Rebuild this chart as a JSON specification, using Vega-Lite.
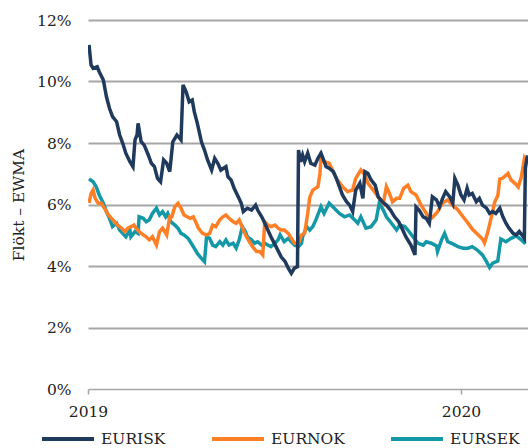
{
"$schema": "https://vega.github.io/schema/vega-lite/v6.json",
"width": 440, "height": 369,
"autosize": {"type": "none"},
"padding": {"left": 88, "top": 20, "right": 0, "bottom": 59},
"background": "white",
"config": {"view": {"stroke": null}, "font": "DejaVu Serif"},
"data": {"values": [
{"d":"2019-01-02","s":"EURISK","v":11.19},{"d":"2019-01-04","s":"EURISK","v":10.54},{"d":"2019-01-06","s":"EURISK","v":10.43},{"d":"2019-01-10","s":"EURISK","v":10.48},{"d":"2019-01-12","s":"EURISK","v":10.32},{"d":"2019-01-16","s":"EURISK","v":10.05},{"d":"2019-01-19","s":"EURISK","v":9.51},{"d":"2019-01-22","s":"EURISK","v":9.13},{"d":"2019-01-25","s":"EURISK","v":8.86},{"d":"2019-01-29","s":"EURISK","v":8.69},{"d":"2019-02-01","s":"EURISK","v":8.26},{"d":"2019-02-04","s":"EURISK","v":7.99},{"d":"2019-02-07","s":"EURISK","v":7.67},{"d":"2019-02-11","s":"EURISK","v":7.39},{"d":"2019-02-14","s":"EURISK","v":7.23},{"d":"2019-02-16","s":"EURISK","v":8.10},{"d":"2019-02-18","s":"EURISK","v":8.26},{"d":"2019-02-19","s":"EURISK","v":8.64},{"d":"2019-02-22","s":"EURISK","v":8.04},{"d":"2019-02-25","s":"EURISK","v":7.93},{"d":"2019-03-01","s":"EURISK","v":7.61},{"d":"2019-03-04","s":"EURISK","v":7.34},{"d":"2019-03-07","s":"EURISK","v":7.23},{"d":"2019-03-10","s":"EURISK","v":6.85},{"d":"2019-03-13","s":"EURISK","v":6.74},{"d":"2019-03-16","s":"EURISK","v":7.45},{"d":"2019-03-19","s":"EURISK","v":7.34},{"d":"2019-03-22","s":"EURISK","v":7.07},{"d":"2019-03-25","s":"EURISK","v":8.04},{"d":"2019-03-29","s":"EURISK","v":8.26},{"d":"2019-04-02","s":"EURISK","v":8.10},{"d":"2019-04-04","s":"EURISK","v":9.89},{"d":"2019-04-07","s":"EURISK","v":9.67},{"d":"2019-04-10","s":"EURISK","v":9.34},{"d":"2019-04-13","s":"EURISK","v":9.40},{"d":"2019-04-15","s":"EURISK","v":9.02},{"d":"2019-04-18","s":"EURISK","v":8.64},{"d":"2019-04-22","s":"EURISK","v":8.04},{"d":"2019-04-25","s":"EURISK","v":7.77},{"d":"2019-04-28","s":"EURISK","v":7.45},{"d":"2019-05-02","s":"EURISK","v":7.12},{"d":"2019-05-05","s":"EURISK","v":7.50},{"d":"2019-05-08","s":"EURISK","v":7.34},{"d":"2019-05-11","s":"EURISK","v":7.12},{"d":"2019-05-16","s":"EURISK","v":7.23},{"d":"2019-05-18","s":"EURISK","v":6.90},{"d":"2019-05-21","s":"EURISK","v":6.80},{"d":"2019-05-24","s":"EURISK","v":6.53},{"d":"2019-05-28","s":"EURISK","v":6.25},{"d":"2019-05-31","s":"EURISK","v":6.04},{"d":"2019-06-02","s":"EURISK","v":5.77},{"d":"2019-06-06","s":"EURISK","v":5.88},{"d":"2019-06-10","s":"EURISK","v":5.82},{"d":"2019-06-14","s":"EURISK","v":5.98},{"d":"2019-06-16","s":"EURISK","v":5.82},{"d":"2019-06-20","s":"EURISK","v":5.60},{"d":"2019-06-23","s":"EURISK","v":5.39},{"d":"2019-06-26","s":"EURISK","v":5.17},{"d":"2019-06-29","s":"EURISK","v":4.95},{"d":"2019-07-04","s":"EURISK","v":4.63},{"d":"2019-07-09","s":"EURISK","v":4.30},{"d":"2019-07-13","s":"EURISK","v":4.14},{"d":"2019-07-16","s":"EURISK","v":3.93},{"d":"2019-07-19","s":"EURISK","v":3.76},{"d":"2019-07-22","s":"EURISK","v":3.93},{"d":"2019-07-25","s":"EURISK","v":3.98},{"d":"2019-07-26","s":"EURISK","v":7.77},{"d":"2019-07-28","s":"EURISK","v":7.39},{"d":"2019-07-30","s":"EURISK","v":7.61},{"d":"2019-08-01","s":"EURISK","v":7.39},{"d":"2019-08-04","s":"EURISK","v":7.67},{"d":"2019-08-07","s":"EURISK","v":7.34},{"d":"2019-08-11","s":"EURISK","v":7.28},{"d":"2019-08-14","s":"EURISK","v":7.50},{"d":"2019-08-17","s":"EURISK","v":7.67},{"d":"2019-08-19","s":"EURISK","v":7.50},{"d":"2019-08-22","s":"EURISK","v":7.23},{"d":"2019-08-25","s":"EURISK","v":7.18},{"d":"2019-08-29","s":"EURISK","v":7.07},{"d":"2019-09-01","s":"EURISK","v":6.85},{"d":"2019-09-04","s":"EURISK","v":6.58},{"d":"2019-09-07","s":"EURISK","v":6.31},{"d":"2019-09-11","s":"EURISK","v":6.09},{"d":"2019-09-14","s":"EURISK","v":5.98},{"d":"2019-09-17","s":"EURISK","v":5.77},{"d":"2019-09-20","s":"EURISK","v":6.47},{"d":"2019-09-24","s":"EURISK","v":6.69},{"d":"2019-09-27","s":"EURISK","v":6.20},{"d":"2019-09-29","s":"EURISK","v":7.07},{"d":"2019-10-02","s":"EURISK","v":7.01},{"d":"2019-10-05","s":"EURISK","v":6.80},{"d":"2019-10-09","s":"EURISK","v":6.63},{"d":"2019-10-12","s":"EURISK","v":6.25},{"d":"2019-10-16","s":"EURISK","v":6.09},{"d":"2019-10-20","s":"EURISK","v":5.98},{"d":"2019-10-24","s":"EURISK","v":5.82},{"d":"2019-10-28","s":"EURISK","v":5.60},{"d":"2019-11-01","s":"EURISK","v":5.44},{"d":"2019-11-05","s":"EURISK","v":5.17},{"d":"2019-11-08","s":"EURISK","v":4.95},{"d":"2019-11-13","s":"EURISK","v":4.68},{"d":"2019-11-17","s":"EURISK","v":4.36},{"d":"2019-11-18","s":"EURISK","v":5.92},{"d":"2019-11-21","s":"EURISK","v":5.82},{"d":"2019-11-25","s":"EURISK","v":5.60},{"d":"2019-11-28","s":"EURISK","v":5.55},{"d":"2019-12-01","s":"EURISK","v":5.39},{"d":"2019-12-04","s":"EURISK","v":6.25},{"d":"2019-12-08","s":"EURISK","v":6.15},{"d":"2019-12-11","s":"EURISK","v":5.93},{"d":"2019-12-14","s":"EURISK","v":6.20},{"d":"2019-12-17","s":"EURISK","v":6.42},{"d":"2019-12-21","s":"EURISK","v":6.25},{"d":"2019-12-24","s":"EURISK","v":6.04},{"d":"2019-12-26","s":"EURISK","v":6.85},{"d":"2019-12-29","s":"EURISK","v":6.63},{"d":"2020-01-01","s":"EURISK","v":6.31},{"d":"2020-01-04","s":"EURISK","v":6.15},{"d":"2020-01-07","s":"EURISK","v":6.53},{"d":"2020-01-09","s":"EURISK","v":6.31},{"d":"2020-01-12","s":"EURISK","v":6.36},{"d":"2020-01-16","s":"EURISK","v":6.09},{"d":"2020-01-19","s":"EURISK","v":6.20},{"d":"2020-01-22","s":"EURISK","v":5.98},{"d":"2020-01-26","s":"EURISK","v":5.88},{"d":"2020-01-29","s":"EURISK","v":5.71},{"d":"2020-02-01","s":"EURISK","v":5.77},{"d":"2020-02-04","s":"EURISK","v":5.71},{"d":"2020-02-08","s":"EURISK","v":5.88},{"d":"2020-02-11","s":"EURISK","v":5.60},{"d":"2020-02-14","s":"EURISK","v":5.39},{"d":"2020-02-17","s":"EURISK","v":5.23},{"d":"2020-02-21","s":"EURISK","v":5.06},{"d":"2020-02-24","s":"EURISK","v":5.01},{"d":"2020-02-27","s":"EURISK","v":5.12},{"d":"2020-03-02","s":"EURISK","v":4.95},{"d":"2020-03-03","s":"EURISK","v":4.90},{"d":"2020-03-04","s":"EURISK","v":7.18},{"d":"2020-03-06","s":"EURISK","v":7.60},
{"d":"2019-01-02","s":"EURNOK","v":6.05},{"d":"2019-01-04","s":"EURNOK","v":6.35},{"d":"2019-01-06","s":"EURNOK","v":6.47},{"d":"2019-01-08","s":"EURNOK","v":6.20},{"d":"2019-01-11","s":"EURNOK","v":6.04},{"d":"2019-01-14","s":"EURNOK","v":6.04},{"d":"2019-01-17","s":"EURNOK","v":5.88},{"d":"2019-01-21","s":"EURNOK","v":5.66},{"d":"2019-01-24","s":"EURNOK","v":5.55},{"d":"2019-01-27","s":"EURNOK","v":5.44},{"d":"2019-01-30","s":"EURNOK","v":5.33},{"d":"2019-02-03","s":"EURNOK","v":5.23},{"d":"2019-02-06","s":"EURNOK","v":5.12},{"d":"2019-02-09","s":"EURNOK","v":5.23},{"d":"2019-02-12","s":"EURNOK","v":5.28},{"d":"2019-02-15","s":"EURNOK","v":5.33},{"d":"2019-02-17","s":"EURNOK","v":5.23},{"d":"2019-02-20","s":"EURNOK","v":5.12},{"d":"2019-02-24","s":"EURNOK","v":5.01},{"d":"2019-02-27","s":"EURNOK","v":4.95},{"d":"2019-03-02","s":"EURNOK","v":4.85},{"d":"2019-03-05","s":"EURNOK","v":4.95},{"d":"2019-03-09","s":"EURNOK","v":4.68},{"d":"2019-03-12","s":"EURNOK","v":5.12},{"d":"2019-03-15","s":"EURNOK","v":5.23},{"d":"2019-03-19","s":"EURNOK","v":5.01},{"d":"2019-03-22","s":"EURNOK","v":5.60},{"d":"2019-03-24","s":"EURNOK","v":5.60},{"d":"2019-03-27","s":"EURNOK","v":5.93},{"d":"2019-03-30","s":"EURNOK","v":6.04},{"d":"2019-04-02","s":"EURNOK","v":5.88},{"d":"2019-04-05","s":"EURNOK","v":5.66},{"d":"2019-04-08","s":"EURNOK","v":5.60},{"d":"2019-04-11","s":"EURNOK","v":5.55},{"d":"2019-04-14","s":"EURNOK","v":5.60},{"d":"2019-04-17","s":"EURNOK","v":5.39},{"d":"2019-04-19","s":"EURNOK","v":5.23},{"d":"2019-04-23","s":"EURNOK","v":5.06},{"d":"2019-04-27","s":"EURNOK","v":5.01},{"d":"2019-04-30","s":"EURNOK","v":5.06},{"d":"2019-05-03","s":"EURNOK","v":5.33},{"d":"2019-05-06","s":"EURNOK","v":5.28},{"d":"2019-05-10","s":"EURNOK","v":5.50},{"d":"2019-05-13","s":"EURNOK","v":5.60},{"d":"2019-05-16","s":"EURNOK","v":5.66},{"d":"2019-05-19","s":"EURNOK","v":5.55},{"d":"2019-05-23","s":"EURNOK","v":5.44},{"d":"2019-05-26","s":"EURNOK","v":5.39},{"d":"2019-05-29","s":"EURNOK","v":5.50},{"d":"2019-06-02","s":"EURNOK","v":5.17},{"d":"2019-06-05","s":"EURNOK","v":4.95},{"d":"2019-06-08","s":"EURNOK","v":4.79},{"d":"2019-06-11","s":"EURNOK","v":4.63},{"d":"2019-06-15","s":"EURNOK","v":4.47},{"d":"2019-06-18","s":"EURNOK","v":4.47},{"d":"2019-06-21","s":"EURNOK","v":4.36},{"d":"2019-06-23","s":"EURNOK","v":5.44},{"d":"2019-06-26","s":"EURNOK","v":5.33},{"d":"2019-06-29","s":"EURNOK","v":5.28},{"d":"2019-07-03","s":"EURNOK","v":5.33},{"d":"2019-07-06","s":"EURNOK","v":5.23},{"d":"2019-07-09","s":"EURNOK","v":5.17},{"d":"2019-07-12","s":"EURNOK","v":5.17},{"d":"2019-07-16","s":"EURNOK","v":5.06},{"d":"2019-07-19","s":"EURNOK","v":4.90},{"d":"2019-07-22","s":"EURNOK","v":4.74},{"d":"2019-07-26","s":"EURNOK","v":4.74},{"d":"2019-07-29","s":"EURNOK","v":5.01},{"d":"2019-08-01","s":"EURNOK","v":5.06},{"d":"2019-08-04","s":"EURNOK","v":5.71},{"d":"2019-08-06","s":"EURNOK","v":6.23},{"d":"2019-08-09","s":"EURNOK","v":6.47},{"d":"2019-08-14","s":"EURNOK","v":6.58},{"d":"2019-08-16","s":"EURNOK","v":7.01},{"d":"2019-08-17","s":"EURNOK","v":7.55},{"d":"2019-08-20","s":"EURNOK","v":7.39},{"d":"2019-08-25","s":"EURNOK","v":7.34},{"d":"2019-08-29","s":"EURNOK","v":7.07},{"d":"2019-09-02","s":"EURNOK","v":6.80},{"d":"2019-09-07","s":"EURNOK","v":6.58},{"d":"2019-09-12","s":"EURNOK","v":6.42},{"d":"2019-09-17","s":"EURNOK","v":6.47},{"d":"2019-09-20","s":"EURNOK","v":6.85},{"d":"2019-09-25","s":"EURNOK","v":7.12},{"d":"2019-09-29","s":"EURNOK","v":6.96},{"d":"2019-10-02","s":"EURNOK","v":6.69},{"d":"2019-10-07","s":"EURNOK","v":6.47},{"d":"2019-10-12","s":"EURNOK","v":6.25},{"d":"2019-10-17","s":"EURNOK","v":6.04},{"d":"2019-10-20","s":"EURNOK","v":6.58},{"d":"2019-10-23","s":"EURNOK","v":6.36},{"d":"2019-10-26","s":"EURNOK","v":6.09},{"d":"2019-10-30","s":"EURNOK","v":6.20},{"d":"2019-11-02","s":"EURNOK","v":6.20},{"d":"2019-11-06","s":"EURNOK","v":6.53},{"d":"2019-11-10","s":"EURNOK","v":6.63},{"d":"2019-11-13","s":"EURNOK","v":6.42},{"d":"2019-11-18","s":"EURNOK","v":6.31},{"d":"2019-11-23","s":"EURNOK","v":5.98},{"d":"2019-11-28","s":"EURNOK","v":5.71},{"d":"2019-12-01","s":"EURNOK","v":5.50},{"d":"2019-12-04","s":"EURNOK","v":5.58},{"d":"2019-12-09","s":"EURNOK","v":5.76},{"d":"2019-12-14","s":"EURNOK","v":6.05},{"d":"2019-12-19","s":"EURNOK","v":6.15},{"d":"2019-12-24","s":"EURNOK","v":5.97},{"d":"2019-12-29","s":"EURNOK","v":5.82},{"d":"2020-01-03","s":"EURNOK","v":5.60},{"d":"2020-01-08","s":"EURNOK","v":5.39},{"d":"2020-01-12","s":"EURNOK","v":5.20},{"d":"2020-01-17","s":"EURNOK","v":5.04},{"d":"2020-01-22","s":"EURNOK","v":4.88},{"d":"2020-01-24","s":"EURNOK","v":4.75},{"d":"2020-01-27","s":"EURNOK","v":5.07},{"d":"2020-01-31","s":"EURNOK","v":5.63},{"d":"2020-02-03","s":"EURNOK","v":6.08},{"d":"2020-02-06","s":"EURNOK","v":6.28},{"d":"2020-02-08","s":"EURNOK","v":6.83},{"d":"2020-02-11","s":"EURNOK","v":6.86},{"d":"2020-02-16","s":"EURNOK","v":7.01},{"d":"2020-02-19","s":"EURNOK","v":6.80},{"d":"2020-02-23","s":"EURNOK","v":6.68},{"d":"2020-02-26","s":"EURNOK","v":6.57},{"d":"2020-02-29","s":"EURNOK","v":6.89},{"d":"2020-03-03","s":"EURNOK","v":7.48},{"d":"2020-03-05","s":"EURNOK","v":7.32},
{"d":"2019-01-02","s":"EURSEK","v":6.83},{"d":"2019-01-06","s":"EURSEK","v":6.74},{"d":"2019-01-09","s":"EURSEK","v":6.58},{"d":"2019-01-12","s":"EURSEK","v":6.31},{"d":"2019-01-16","s":"EURSEK","v":6.04},{"d":"2019-01-19","s":"EURSEK","v":5.77},{"d":"2019-01-22","s":"EURSEK","v":5.55},{"d":"2019-01-25","s":"EURSEK","v":5.28},{"d":"2019-01-29","s":"EURSEK","v":5.39},{"d":"2019-02-01","s":"EURSEK","v":5.17},{"d":"2019-02-04","s":"EURSEK","v":5.06},{"d":"2019-02-07","s":"EURSEK","v":4.95},{"d":"2019-02-11","s":"EURSEK","v":5.17},{"d":"2019-02-12","s":"EURSEK","v":4.95},{"d":"2019-02-16","s":"EURSEK","v":5.12},{"d":"2019-02-19","s":"EURSEK","v":5.06},{"d":"2019-02-20","s":"EURSEK","v":5.60},{"d":"2019-02-24","s":"EURSEK","v":5.55},{"d":"2019-02-27","s":"EURSEK","v":5.44},{"d":"2019-03-02","s":"EURSEK","v":5.50},{"d":"2019-03-05","s":"EURSEK","v":5.71},{"d":"2019-03-09","s":"EURSEK","v":5.88},{"d":"2019-03-12","s":"EURSEK","v":5.66},{"d":"2019-03-15","s":"EURSEK","v":5.77},{"d":"2019-03-18","s":"EURSEK","v":5.60},{"d":"2019-03-20","s":"EURSEK","v":5.71},{"d":"2019-03-23","s":"EURSEK","v":5.44},{"d":"2019-03-27","s":"EURSEK","v":5.33},{"d":"2019-03-30","s":"EURSEK","v":5.23},{"d":"2019-04-02","s":"EURSEK","v":5.06},{"d":"2019-04-05","s":"EURSEK","v":5.01},{"d":"2019-04-09","s":"EURSEK","v":4.90},{"d":"2019-04-12","s":"EURSEK","v":4.74},{"d":"2019-04-15","s":"EURSEK","v":4.58},{"d":"2019-04-18","s":"EURSEK","v":4.41},{"d":"2019-04-22","s":"EURSEK","v":4.25},{"d":"2019-04-25","s":"EURSEK","v":4.14},{"d":"2019-04-27","s":"EURSEK","v":4.95},{"d":"2019-04-30","s":"EURSEK","v":4.90},{"d":"2019-05-03","s":"EURSEK","v":4.68},{"d":"2019-05-06","s":"EURSEK","v":4.63},{"d":"2019-05-10","s":"EURSEK","v":4.79},{"d":"2019-05-13","s":"EURSEK","v":4.68},{"d":"2019-05-16","s":"EURSEK","v":4.85},{"d":"2019-05-19","s":"EURSEK","v":4.68},{"d":"2019-05-23","s":"EURSEK","v":4.74},{"d":"2019-05-26","s":"EURSEK","v":4.58},{"d":"2019-05-29","s":"EURSEK","v":4.85},{"d":"2019-06-01","s":"EURSEK","v":5.28},{"d":"2019-06-04","s":"EURSEK","v":5.12},{"d":"2019-06-06","s":"EURSEK","v":4.95},{"d":"2019-06-10","s":"EURSEK","v":4.85},{"d":"2019-06-13","s":"EURSEK","v":4.74},{"d":"2019-06-16","s":"EURSEK","v":4.79},{"d":"2019-06-20","s":"EURSEK","v":4.68},{"d":"2019-06-23","s":"EURSEK","v":4.74},{"d":"2019-06-26","s":"EURSEK","v":4.68},{"d":"2019-06-29","s":"EURSEK","v":4.63},{"d":"2019-07-03","s":"EURSEK","v":4.74},{"d":"2019-07-06","s":"EURSEK","v":4.85},{"d":"2019-07-08","s":"EURSEK","v":5.01},{"d":"2019-07-12","s":"EURSEK","v":4.79},{"d":"2019-07-16","s":"EURSEK","v":4.90},{"d":"2019-07-19","s":"EURSEK","v":4.79},{"d":"2019-07-22","s":"EURSEK","v":4.68},{"d":"2019-07-26","s":"EURSEK","v":4.63},{"d":"2019-07-29","s":"EURSEK","v":4.74},{"d":"2019-07-30","s":"EURSEK","v":4.95},{"d":"2019-08-03","s":"EURSEK","v":5.28},{"d":"2019-08-06","s":"EURSEK","v":5.17},{"d":"2019-08-09","s":"EURSEK","v":5.28},{"d":"2019-08-12","s":"EURSEK","v":5.50},{"d":"2019-08-17","s":"EURSEK","v":5.93},{"d":"2019-08-20","s":"EURSEK","v":5.71},{"d":"2019-08-25","s":"EURSEK","v":6.04},{"d":"2019-08-30","s":"EURSEK","v":5.88},{"d":"2019-09-04","s":"EURSEK","v":5.71},{"d":"2019-09-09","s":"EURSEK","v":5.60},{"d":"2019-09-14","s":"EURSEK","v":5.66},{"d":"2019-09-19","s":"EURSEK","v":5.50},{"d":"2019-09-22","s":"EURSEK","v":5.39},{"d":"2019-09-25","s":"EURSEK","v":5.60},{"d":"2019-09-30","s":"EURSEK","v":5.23},{"d":"2019-10-05","s":"EURSEK","v":5.28},{"d":"2019-10-10","s":"EURSEK","v":5.50},{"d":"2019-10-13","s":"EURSEK","v":6.04},{"d":"2019-10-17","s":"EURSEK","v":5.82},{"d":"2019-10-20","s":"EURSEK","v":5.60},{"d":"2019-10-25","s":"EURSEK","v":5.39},{"d":"2019-10-30","s":"EURSEK","v":5.17},{"d":"2019-11-02","s":"EURSEK","v":5.33},{"d":"2019-11-07","s":"EURSEK","v":5.28},{"d":"2019-11-10","s":"EURSEK","v":5.17},{"d":"2019-11-15","s":"EURSEK","v":4.95},{"d":"2019-11-20","s":"EURSEK","v":4.74},{"d":"2019-11-25","s":"EURSEK","v":4.68},{"d":"2019-11-28","s":"EURSEK","v":4.79},{"d":"2019-12-03","s":"EURSEK","v":4.74},{"d":"2019-12-08","s":"EURSEK","v":4.65},{"d":"2019-12-09","s":"EURSEK","v":4.47},{"d":"2019-12-13","s":"EURSEK","v":4.85},{"d":"2019-12-16","s":"EURSEK","v":5.06},{"d":"2019-12-19","s":"EURSEK","v":4.79},{"d":"2019-12-24","s":"EURSEK","v":4.72},{"d":"2019-12-29","s":"EURSEK","v":4.63},{"d":"2020-01-03","s":"EURSEK","v":4.58},{"d":"2020-01-08","s":"EURSEK","v":4.58},{"d":"2020-01-12","s":"EURSEK","v":4.63},{"d":"2020-01-17","s":"EURSEK","v":4.52},{"d":"2020-01-22","s":"EURSEK","v":4.36},{"d":"2020-01-26","s":"EURSEK","v":4.14},{"d":"2020-01-29","s":"EURSEK","v":3.95},{"d":"2020-02-01","s":"EURSEK","v":4.09},{"d":"2020-02-06","s":"EURSEK","v":4.16},{"d":"2020-02-09","s":"EURSEK","v":4.88},{"d":"2020-02-14","s":"EURSEK","v":4.79},{"d":"2020-02-19","s":"EURSEK","v":4.90},{"d":"2020-02-24","s":"EURSEK","v":4.98},{"d":"2020-02-29","s":"EURSEK","v":4.85},{"d":"2020-03-04","s":"EURSEK","v":4.72}
]},
"encoding": {
  "x": {"field": "d", "type": "temporal",
    "scale": {"type": "utc", "domain": [{"year": 2019, "month": 1, "date": 1, "utc": true}, {"year": 2020, "month": 3, "date": 6, "hours": 14, "utc": true}]},
    "axis": {"title": null, "grid": false, "values": [{"year": 2019, "month": 1, "date": 1, "utc": true}, {"year": 2020, "month": 1, "date": 1, "utc": true}],
      "labelExpr": "utcFormat(datum.value, '%Y')", "labelFlush": false, "labelAlign": "center",
      "domainColor": "#a6a6a6", "domainWidth": 1.5, "tickColor": "#a6a6a6", "tickWidth": 1.5, "tickSize": 5,
      "labelPadding": 10, "labelFontSize": 15.5, "labelColor": "#222222"}},
  "y": {"field": "v", "type": "quantitative",
    "scale": {"domain": [0, 12]},
    "axis": {"title": "Flökt – EWMA", "values": [0, 2, 4, 6, 8, 10, 12], "labelExpr": "datum.value + '%'",
      "domain": false, "ticks": false, "gridColor": "#a6a6a6", "gridWidth": 2,
      "gridOpacity": {"condition": {"test": "datum.value === 0", "value": 0}, "value": 1},
      "labelPadding": 17, "labelFontSize": 15.5, "labelColor": "#222222",
      "titleFontWeight": "normal", "titleFontSize": 15.5, "titleColor": "#222222", "titlePadding": 10}},
  "color": {"field": "s", "type": "nominal",
    "scale": {"domain": ["EURISK", "EURNOK", "EURSEK"], "range": ["#1f3a5c", "#ff7f27", "#1498a8"]},
    "legend": {"title": null, "orient": "none", "direction": "horizontal", "legendX": -48, "legendY": 391,
      "symbolType": "stroke", "symbolSize": 2704, "symbolStrokeWidth": 4, "labelFontSize": 15.5, "labelColor": "#222222",
      "labelOffset": 5, "columnPadding": 38, "gridAlign": "none", "padding": 0}}
},
"layer": [
  {"transform": [{"filter": "datum.s === 'EURSEK'"}], "mark": {"type": "line", "strokeWidth": 3.5, "clip": true}},
  {"transform": [{"filter": "datum.s === 'EURNOK'"}], "mark": {"type": "line", "strokeWidth": 3.5, "clip": true}},
  {"transform": [{"filter": "datum.s === 'EURISK'"}], "mark": {"type": "line", "strokeWidth": 3.5, "clip": true}}
]
}
